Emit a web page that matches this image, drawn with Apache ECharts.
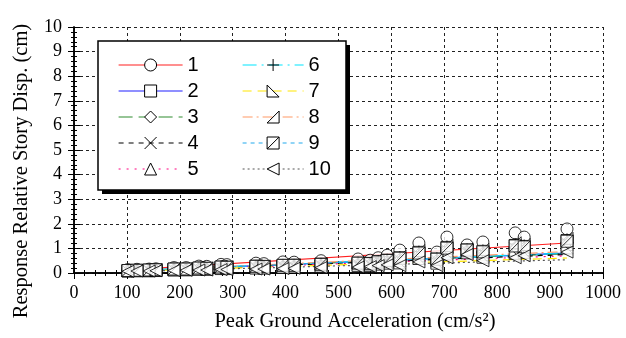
<!DOCTYPE html>
<html>
<head>
<meta charset="utf-8">
<script src="https://cdn.jsdelivr.net/npm/echarts@6/dist/echarts.min.js"></script>
<style>html,body{margin:0;padding:0;background:#fff}#main{width:626px;height:338px}</style>
</head>
<body>
<div id="main"></div>
<script>
// peak ground acceleration of each record (cm/s2)
var pga = [102, 119, 142, 155, 189, 212, 236, 251, 278, 289, 344, 359, 395, 416, 467,
           537, 560, 575, 592, 616, 652, 686, 705, 743, 773, 834, 851, 932];

// response relative story displacement (cm), one list per case
var s1  = [0.14,0.15,0.16,0.17,0.22,0.22,0.28,0.27,0.35,0.34,0.40,0.38,0.45,0.44,0.50,0.57,0.52,0.62,0.72,0.93,1.22,0.85,1.46,1.14,1.26,1.63,1.46,1.79];
var s2  = [0.10,0.11,0.12,0.13,0.16,0.16,0.20,0.19,0.24,0.24,0.28,0.27,0.31,0.32,0.36,0.40,0.39,0.46,0.52,0.62,0.84,0.57,1.04,0.94,0.88,1.12,1.08,1.32];
var s3  = [0.10,0.11,0.11,0.12,0.15,0.16,0.19,0.18,0.23,0.22,0.26,0.25,0.29,0.30,0.34,0.38,0.37,0.43,0.49,0.57,0.77,0.53,0.97,0.91,0.82,1.04,1.02,1.25];
var s4  = [0.09,0.10,0.11,0.12,0.14,0.15,0.18,0.17,0.22,0.21,0.25,0.24,0.28,0.28,0.33,0.36,0.35,0.42,0.47,0.54,0.74,0.51,0.94,0.90,0.79,1.00,0.99,1.21];
var s5  = [0.09,0.10,0.10,0.11,0.14,0.14,0.17,0.17,0.21,0.20,0.24,0.23,0.27,0.27,0.31,0.35,0.34,0.40,0.46,0.51,0.70,0.48,0.90,0.88,0.75,0.95,0.95,1.16];
var s6  = [0.11,0.12,0.12,0.13,0.17,0.17,0.21,0.20,0.26,0.25,0.29,0.28,0.33,0.33,0.37,0.42,0.40,0.48,0.54,0.65,0.87,0.60,1.08,0.96,0.92,1.18,1.12,1.37];
var s7  = [0.08,0.09,0.09,0.10,0.12,0.13,0.15,0.15,0.18,0.18,0.20,0.20,0.23,0.24,0.27,0.30,0.31,0.36,0.40,0.41,0.59,0.40,0.77,0.82,0.64,0.80,0.84,1.02];
var s8  = [0.11,0.12,0.13,0.14,0.17,0.18,0.22,0.21,0.27,0.26,0.30,0.29,0.34,0.34,0.39,0.44,0.42,0.49,0.56,0.68,0.91,0.63,1.12,0.98,0.96,1.23,1.16,1.41];
var s9  = [0.10,0.11,0.12,0.13,0.16,0.16,0.20,0.19,0.24,0.23,0.27,0.26,0.31,0.31,0.35,0.40,0.38,0.45,0.51,0.60,0.81,0.56,1.01,0.93,0.86,1.10,1.06,1.29];
var s10 = [0.07,0.08,0.08,0.09,0.10,0.11,0.12,0.12,0.14,0.14,0.16,0.16,0.18,0.19,0.22,0.24,0.26,0.30,0.33,0.30,0.45,0.30,0.62,0.75,0.50,0.62,0.70,0.85];

// fitted lines: value at first and last record
var fitX = [102, 932];
var fit1 = [0.13, 1.22];
var fit2 = [0.09, 0.81];
var fit3 = [0.09, 0.79];
var fit4 = [0.08, 0.75];
var fit5 = [0.08, 0.70];
var fit6 = [0.09, 0.82];
var fit7 = [0.07, 0.61];
var fit8 = [0.09, 0.87];
var fit9 = [0.09, 0.80];
var fit10 = [0.06, 0.54];

var names = ['1', '2', '3', '4', '5', '6', '7', '8', '9', '10'];
var values = [s1, s2, s3, s4, s5, s6, s7, s8, s9, s10];
var fits = [fit1, fit2, fit3, fit4, fit5, fit6, fit7, fit8, fit9, fit10];

var colors = ['#ff2020', '#2020ff', '#2e8b2e', '#000000', '#ff0080',
              '#00e5ff', '#ffe600', '#ff9966', '#22aaee', '#555555'];
var dashes = ['solid', 'solid', [14, 6], [5, 5], [2, 6],
              [14, 5, 2, 5], [9, 6], [10, 4, 2, 4], [4, 4], [2, 3]];
var symbols = [
    'circle',
    'rect',
    'diamond',
    'path://M0,0L10,10M10,0L0,10',
    'triangle',
    'path://M5,0L5,10M0,5L10,5',
    'path://M0,0L0,10L10,10Z',
    'path://M10,0L10,10L0,10Z',
    'path://M0,0L10,0L10,10L0,10ZM0,10L10,0',
    'path://M0,5L10,0L10,10Z'
];

var serif = 'Liberation Serif';
var sans = 'Liberation Sans';

var series = [];
var legendItems = [];
for (var i = 0; i < names.length; i++) {
    series.push({
        name: names[i],
        type: 'line',
        data: [[fitX[0], fits[i][0]], [fitX[1], fits[i][1]]],
        symbol: symbols[i],
        showSymbol: false,
        lineStyle: {color: colors[i], width: 1.2, type: dashes[i]},
        itemStyle: {color: '#fff', borderColor: '#000', borderWidth: 1},
        z: 2
    });
    legendItems.push({
        name: names[i],
        itemStyle: {color: '#fff', borderColor: '#000', borderWidth: 1},
        lineStyle: {color: colors[i], width: 1.2, type: dashes[i]}
    });
}
for (var j = 0; j < names.length; j++) {
    series.push({
        name: 'pts' + names[j],
        type: 'scatter',
        data: pga.map(function (x, k) { return [x, values[j][k]]; }),
        symbol: symbols[j],
        symbolSize: 12,
        itemStyle: {color: '#fff', borderColor: '#000', borderWidth: 1},
        z: 3
    });
}

var axisCommon = {
    axisLine: {show: true, lineStyle: {color: '#000', width: 1.5}},
    axisTick: {show: true, inside: true, length: 6, lineStyle: {color: '#000'}},
    minorTick: {show: true, splitNumber: 5, length: 3, lineStyle: {color: '#000'}},
    axisLabel: {color: '#000', fontFamily: serif, fontSize: 18},
    splitLine: {show: false}
};

var myChart = echarts.init(document.getElementById('main'));
var option = {
    animation: false,
    backgroundColor: '#fff',
    grid: {left: 74, right: 23, top: 27, bottom: 65},
    xAxis: [
        Object.assign({}, axisCommon, {
            type: 'value', min: 0, max: 1000, interval: 100,
            axisLabel: {color: '#000', fontFamily: serif, fontSize: 18, margin: 11,
                        formatter: function (v) { return String(v); }},
            splitLine: {show: true, lineStyle: {color: '#222', type: [3, 3]}}
        }),
        Object.assign({}, axisCommon, {
            type: 'value', min: 0, max: 1000, interval: 100, position: 'top',
            axisLabel: {show: false}
        })
    ],
    yAxis: [
        Object.assign({}, axisCommon, {
            type: 'value', min: 0, max: 10, interval: 1,
            axisLabel: {color: '#000', fontFamily: serif, fontSize: 18, margin: 12},
            splitLine: {show: true, lineStyle: {color: '#222', type: [3, 3]}}
        }),
        Object.assign({}, axisCommon, {
            type: 'value', min: 0, max: 10, interval: 1, position: 'right',
            axisLabel: {show: false}
        })
    ],
    legend: [
        {
            data: legendItems.slice(0, 5),
            orient: 'vertical', left: 113, top: 50,
            itemWidth: 64, itemHeight: 15, itemGap: 6,
            selectedMode: false,
            textStyle: {color: '#000', fontFamily: sans, fontSize: 20}
        },
        {
            data: legendItems.slice(5),
            orient: 'vertical', left: 237, top: 50,
            itemWidth: 61, itemHeight: 15, itemGap: 6,
            selectedMode: false,
            textStyle: {color: '#000', fontFamily: sans, fontSize: 20}
        }
    ],
    graphic: [
        {type: 'rect', z: 3, shape: {x: 102, y: 45, width: 248, height: 149},
         style: {fill: '#000'}},
        {type: 'rect', z: 3, shape: {x: 98, y: 41, width: 248, height: 149},
         style: {fill: '#fff', stroke: '#000', lineWidth: 1.5}},
        {type: 'text', x: 355, y: 322, z: 5,
         style: {text: 'Peak Ground Acceleration (cm/s²)', font: '20.5px ' + serif, fill: '#000',
                 align: 'center', verticalAlign: 'middle'}},
        {type: 'text', x: 22, y: 171, rotation: Math.PI / 2, z: 5,
         style: {text: 'Response Relative Story Disp. (cm)', font: '20.5px ' + serif, fill: '#000',
                 align: 'center', verticalAlign: 'middle'}}
    ],
    series: series
};
myChart.setOption(option);
</script>
</body>
</html>
